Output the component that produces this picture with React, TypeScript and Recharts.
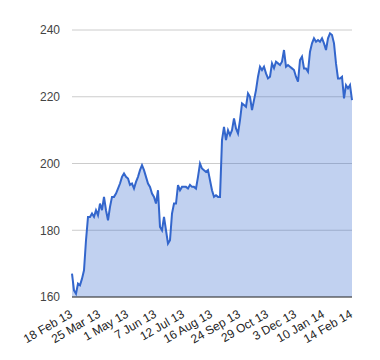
import React from 'react';
import { AreaChart, Area, XAxis, YAxis, CartesianGrid } from 'recharts';

const prices: number[] = [
  167, 162, 161, 164, 163.5, 165.5, 168, 177, 184, 184,
  185, 184, 186, 184.5, 188, 186, 190, 186, 183, 187,
  190, 190, 191, 192.5, 194, 196, 197, 196, 195.5, 193.6,
  194, 192.5, 194.5, 196, 198, 199.5, 198, 196, 194, 193,
  191, 190, 188, 192, 181, 180, 184, 180, 176, 177,
  185, 188, 188, 193.5, 192, 193, 193, 193, 192.5, 193.6,
  193, 193, 192.5, 196, 200, 198.5, 198, 197.5, 198, 195,
  192, 190, 190.5, 190, 190, 207, 211, 207, 210, 208.5,
  210, 213.5, 210.5, 209, 213, 218, 217.5, 217, 221, 220,
  216, 219, 222, 226, 229, 228, 229, 227, 225.5, 226,
  230, 228.6, 230.5, 230, 229.5, 230.5, 234, 229, 229.5, 229,
  228.5, 228, 226, 224.5, 231, 232, 228.5, 228.5, 227.5, 233.5,
  236, 237.5, 236.5, 237, 236.5, 237.5, 236, 234, 237.5, 239,
  238.5, 236, 230, 225.5, 225.5, 226, 219.5, 223.5, 222.5, 223.5,
  219,
];

const tickLabels: string[] = [
  '18 Feb 13', '25 Mar 13', '1 May 13', '7 Jun 13', '12 Jul 13', '16 Aug 13',
  '24 Sep 13', '29 Oct 13', '3 Dec 13', '10 Jan 14', '14 Feb 14',
];

const yTicks: number[] = [160, 180, 200, 220, 240];

const data = prices.map((v, i) => ({ i, v }));
const step = (prices.length - 1) / (tickLabels.length - 1);
const xTicks = tickLabels.map((_, k) => k * step);

export default function App() {
  return (
    <div style={{ fontFamily: 'Arial, "Liberation Sans", sans-serif' }}>
      <AreaChart
        width={372}
        height={344}
        data={data}
        margin={{ top: 22, right: 28, left: 0, bottom: 0 }}
      >
        <CartesianGrid vertical={false} stroke="#cccccc" />
        <XAxis
          dataKey="i"
          type="number"
          domain={[0, prices.length - 1]}
          ticks={xTicks}
          interval={0}
          tickFormatter={(v: number) => tickLabels[Math.round(v / step)]}
          height={55}
          angle={-30}
          tickLine={false}
          tickMargin={6}
          axisLine={{ stroke: '#333333' }}
          tick={{ fontSize: 12, fill: '#222222', textAnchor: 'end', dx: -3 }}
        />
        <YAxis
          domain={[160, 240]}
          ticks={yTicks}
          width={64}
          axisLine={false}
          tickLine={false}
          tickMargin={6}
          tick={{ fontSize: 12, fill: '#444444' }}
        />
        <Area
          type="linear"
          dataKey="v"
          stroke="#3366cc"
          strokeWidth={2}
          fill="#3366cc"
          fillOpacity={0.3}
          baseValue={160}
          isAnimationActive={false}
          dot={false}
          activeDot={false}
        />
      </AreaChart>
    </div>
  );
}
